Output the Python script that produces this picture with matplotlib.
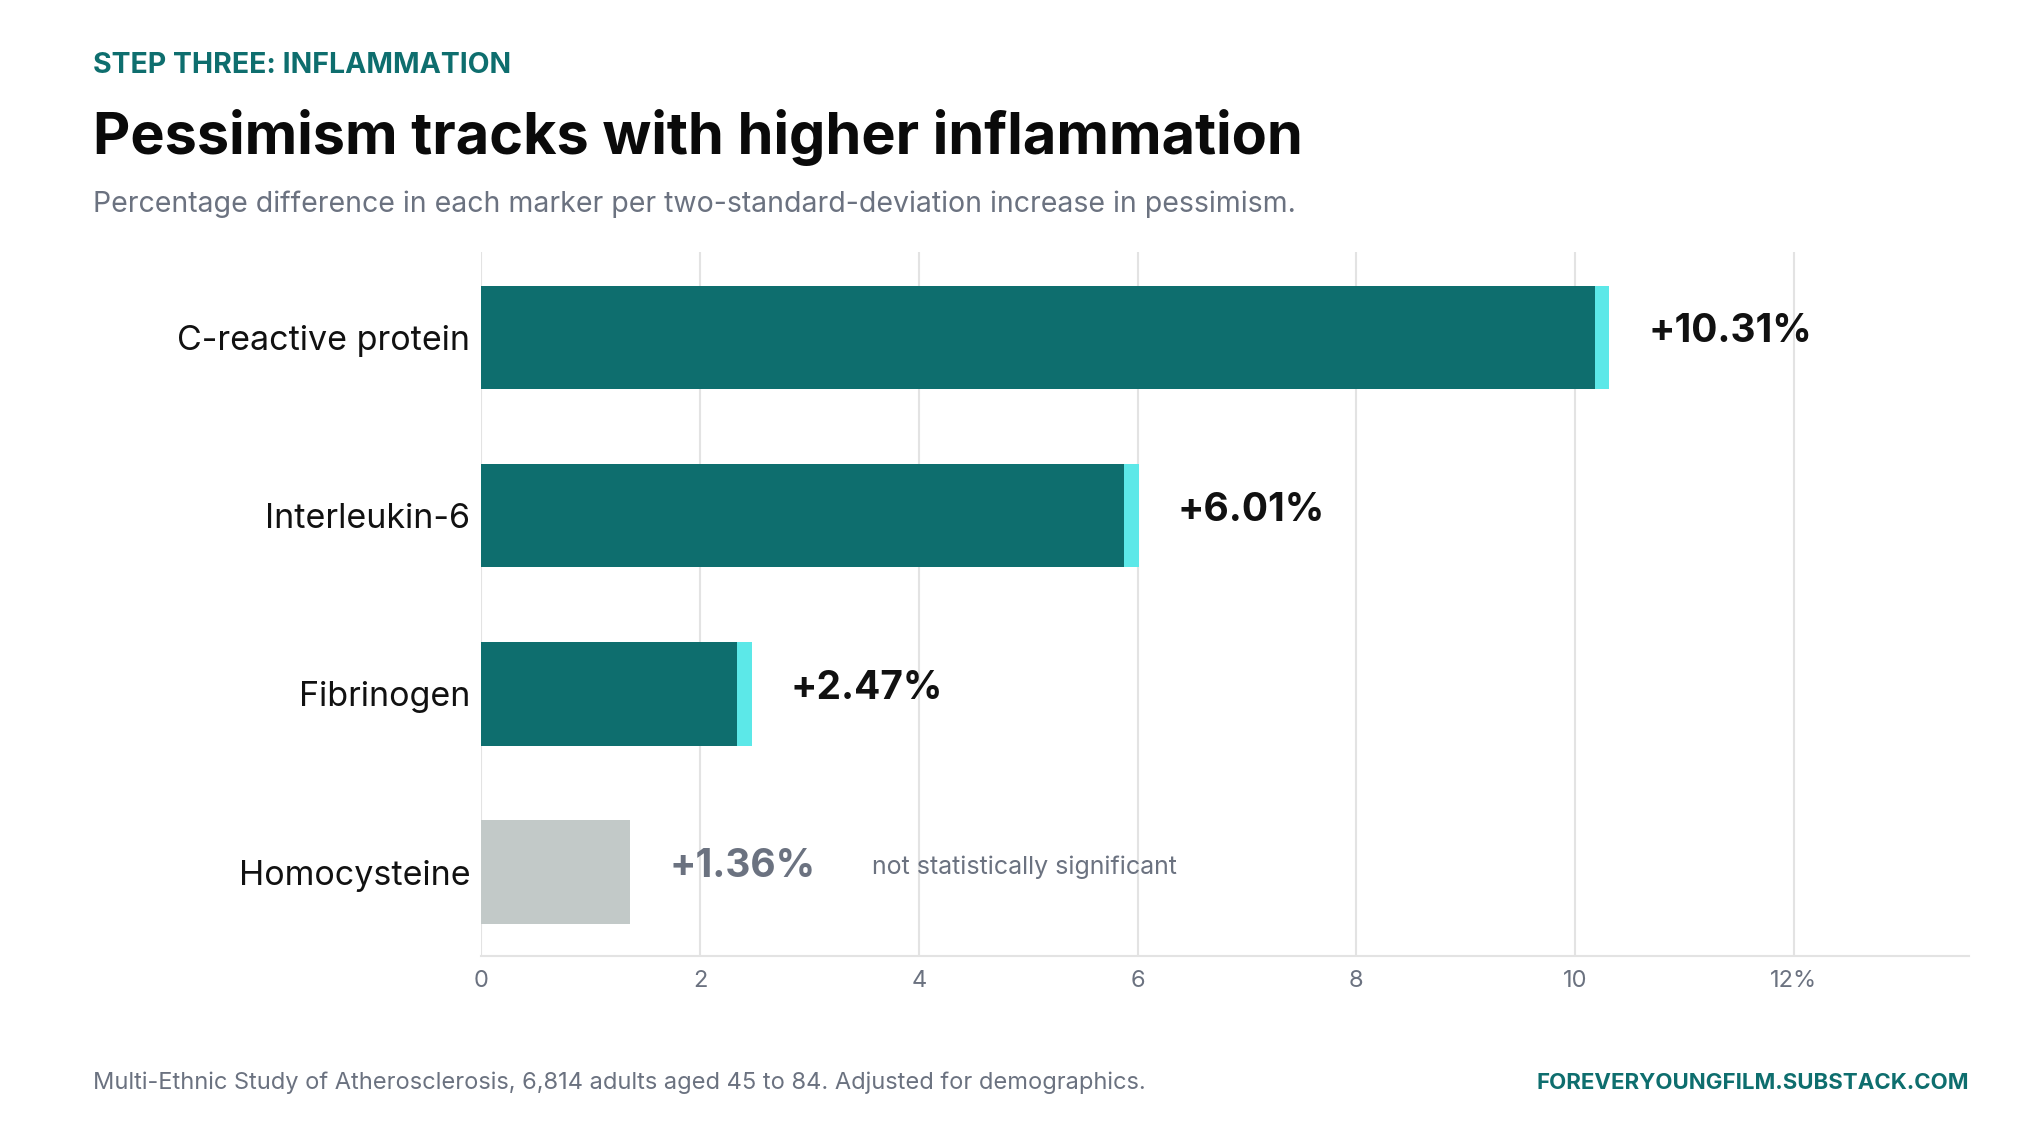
import matplotlib
matplotlib.use("Agg")
from matplotlib import pyplot as plt

# data
markers = ['C-reactive protein', 'Interleukin-6', 'Fibrinogen', 'Homocysteine']
values = [10.31, 6.01, 2.47, 1.36]
significant = [True, True, True, False]
ticks = [0, 2, 4, 6, 8, 10, 12]
tick_labels = ['0', '2', '4', '6', '8', '10', '12%']

TEAL = '#0e6e6e'
CYAN = '#5ce8e8'
GRAYBAR = '#c2c9c8'
GRAYTXT = '#6b7280'

plt.rcParams['font.family'] = ['Inter', 'DejaVu Sans']

fig = plt.figure(figsize=(20.4, 11.47), dpi=100)
ax = fig.add_axes([0.236, 0.1665, 0.729, 0.6135])

tip = 0.13
for i, (v, sig) in enumerate(zip(values, significant)):
    if sig:
        ax.barh(i, v - tip, height=0.58, color=TEAL, zorder=3)
        ax.barh(i, tip, left=v - tip, height=0.58, color=CYAN, zorder=3)
        ax.text(v + 0.36, i - 0.03, '+%.2f%%' % v, va='center', ha='left',
                fontsize=28, fontweight='bold', color='#111111')
    else:
        ax.barh(i, v, height=0.58, color=GRAYBAR, zorder=3)
        ax.text(v + 0.36, i - 0.03, '+%.2f%%' % v, va='center', ha='left',
                fontsize=28, fontweight='bold', color=GRAYTXT)
        ax.text(3.57, i - 0.03, 'not statistically significant', va='center',
                ha='left', fontsize=18, color=GRAYTXT)

ax.set_xlim(0, 13.6)
ax.set_ylim(3.47, -0.476)
ax.set_yticks(range(len(markers)))
ax.set_yticklabels(markers, fontsize=24.5, color='#111111')
ax.set_xticks(ticks)
ax.set_xticklabels(tick_labels, fontsize=17, color=GRAYTXT)
ax.tick_params(axis='y', length=0, pad=8)
ax.tick_params(axis='x', length=0, pad=10)
ax.grid(axis='x', color='#e3e3e3', linewidth=1.5, zorder=0)
for s in ['top', 'right', 'left']:
    ax.spines[s].set_visible(False)
ax.spines['bottom'].set_color('#e3e3e3')
ax.spines['bottom'].set_linewidth(1.5)

fig.text(0.0455, 0.943, 'STEP THREE: INFLAMMATION', fontsize=20.5, fontweight='bold',
         color=TEAL, va='center')
fig.text(0.0455, 0.880, 'Pessimism tracks with higher inflammation', fontsize=41.5,
         fontweight='bold', color='#0a0a0a', va='center')
fig.text(0.0455, 0.822, 'Percentage difference in each marker per two-standard-deviation '
         'increase in pessimism.', fontsize=20.5, color=GRAYTXT, va='center')
fig.text(0.0455, 0.056, 'Multi-Ethnic Study of Atherosclerosis, 6,814 adults aged 45 to 84. '
         'Adjusted for demographics.', fontsize=17, color=GRAYTXT, va='center')
fig.text(0.965, 0.056, 'FOREVERYOUNGFILM.SUBSTACK.COM', fontsize=16, fontweight='bold',
         color=TEAL, va='center', ha='right')

fig.savefig('out.png', dpi=100, facecolor='white')
